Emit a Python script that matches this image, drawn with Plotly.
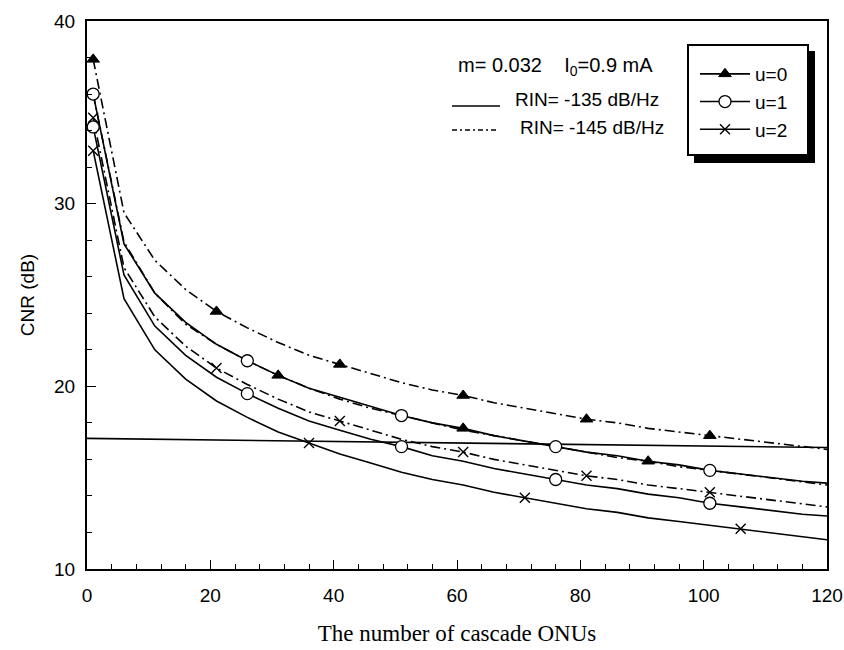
import plotly.graph_objects as go

# ---------------- data ----------------
N = [1, 6, 11, 16, 21, 26, 31, 36, 41, 46, 51, 56, 61, 66, 71, 76, 81, 86, 91, 96,
     101, 106, 111, 116, 120]

# RIN = -145 dB/Hz (dash-dot)
cnr_u0_rin145 = [37.9, 29.5, 26.9, 25.3, 24.1, 23.2, 22.4, 21.7, 21.2, 20.7, 20.2, 19.8,
                 19.5, 19.1, 18.8, 18.5, 18.2, 18.0, 17.7, 17.5, 17.3, 17.1, 16.9, 16.7, 16.55]
cnr_u1_rin145 = [36.0, 27.9, 25.1, 23.4, 22.3, 21.4, 20.6, 19.9, 19.3, 18.8, 18.4, 18.0,
                 17.6, 17.3, 17.0, 16.7, 16.4, 16.1, 15.9, 15.6, 15.4, 15.2, 15.0, 14.8, 14.6]
cnr_u2_rin145 = [34.7, 26.5, 23.8, 22.2, 21.0, 20.1, 19.3, 18.6, 18.1, 17.6, 17.1, 16.7,
                 16.4, 16.0, 15.7, 15.4, 15.1, 14.9, 14.6, 14.4, 14.2, 14.0, 13.8, 13.6, 13.4]
# RIN = -135 dB/Hz (solid)
cnr_u0_rin135 = [36.0, 27.8, 25.1, 23.5, 22.3, 21.4, 20.6, 19.9, 19.4, 18.9, 18.4, 18.0,
                 17.7, 17.3, 17.0, 16.7, 16.4, 16.2, 15.9, 15.7, 15.4, 15.2, 15.0, 14.8, 14.7]
cnr_u1_rin135 = [34.2, 26.1, 23.3, 21.7, 20.5, 19.6, 18.8, 18.1, 17.6, 17.1, 16.7, 16.2,
                 15.9, 15.5, 15.2, 14.9, 14.6, 14.4, 14.1, 13.9, 13.6, 13.4, 13.2, 13.0, 12.9]
cnr_u2_rin135 = [32.9, 24.8, 22.0, 20.4, 19.2, 18.3, 17.5, 16.9, 16.3, 15.8, 15.3, 14.9,
                 14.6, 14.2, 13.9, 13.6, 13.3, 13.1, 12.8, 12.6, 12.4, 12.2, 12.0, 11.8, 11.6]

# nearly horizontal reference line
ref_x = [0, 120]
ref_y = [17.15, 16.65]

# x positions where markers are drawn on each curve
mk_u0_rin145 = [1, 21, 41, 61, 81, 101]
mk_u0_rin135 = [31, 61, 91]
mk_u1_rin145 = [1, 26, 51, 76, 101]
mk_u1_rin135 = [1, 26, 51, 76, 101]
mk_u2_rin145 = [1, 21, 41, 61, 81, 101]
mk_u2_rin135 = [1, 36, 71, 106]

legend_names = ["u=0", "u=1", "u=2"]
x_ticks = [0, 20, 40, 60, 80, 100, 120]
y_ticks = [10, 20, 30, 40]

# ---------------- styles ----------------
SANS = "Liberation Sans, Arial, sans-serif"
SERIF = "Liberation Serif, Times New Roman, serif"
DASHDOT = "10px,4px,2px,4px"
LW = 1.6

sym = {
    "u0": dict(symbol="triangle-up", size=11, color="black",
               line=dict(color="black", width=1)),
    "u1": dict(symbol="circle", size=12, color="white",
               line=dict(color="black", width=1.3)),
    "u2": dict(symbol="x-thin", size=10, color="black",
               line=dict(color="black", width=1.4)),
}

fig = go.Figure()

fig.add_trace(go.Scatter(x=ref_x, y=ref_y, mode="lines",
                         line=dict(color="black", width=LW), showlegend=False,
                         hoverinfo="skip"))

series = [
    ("u0", cnr_u0_rin145, "dash", mk_u0_rin145),
    ("u0", cnr_u0_rin135, "solid", mk_u0_rin135),
    ("u1", cnr_u1_rin145, "dash", mk_u1_rin145),
    ("u1", cnr_u1_rin135, "solid", mk_u1_rin135),
    ("u2", cnr_u2_rin145, "dash", mk_u2_rin145),
    ("u2", cnr_u2_rin135, "solid", mk_u2_rin135),
]

for key, ys, style, mks in series:
    fig.add_trace(go.Scatter(
        x=N, y=ys, mode="lines",
        line=dict(color="black", width=LW,
                  dash=DASHDOT if style == "dash" else "solid"),
        showlegend=False))
for key, ys, style, mks in series:
    lookup = dict(zip(N, ys))
    fig.add_trace(go.Scatter(
        x=mks, y=[lookup[v] for v in mks], mode="markers",
        marker=sym[key], showlegend=False))

# legend-only entries
for key, name in zip(["u0", "u1", "u2"], legend_names):
    fig.add_trace(go.Scatter(
        x=[None], y=[None], mode="lines+markers", name=name,
        legendgroup=key,
        line=dict(color="black", width=LW), marker=sym[key], showlegend=True))

PL, PR, PT, PB = 87, 827, 21, 569


def px_x(p):
    return (p - PL) / float(PR - PL)


def px_y(p):
    return (PB - p) / float(PB - PT)


shapes = [
    # legend drop shadow and frame
    dict(type="rect", xref="paper", yref="paper",
         x0=px_x(694), x1=px_x(815), y0=px_y(163), y1=px_y(51),
         fillcolor="black", line=dict(width=0), layer="above"),
    dict(type="rect", xref="paper", yref="paper",
         x0=px_x(688), x1=px_x(808), y0=px_y(155), y1=px_y(45),
         fillcolor="white", line=dict(color="black", width=2), layer="above"),
    # sample lines for the RIN annotations
    dict(type="line", xref="paper", yref="paper",
         x0=px_x(452), x1=px_x(500), y0=px_y(106), y1=px_y(106),
         line=dict(color="black", width=1.3)),
    dict(type="line", xref="paper", yref="paper",
         x0=px_x(452), x1=px_x(498), y0=px_y(130), y1=px_y(130),
         line=dict(color="black", width=1.3, dash="5px,3px,2px,3px")),
]

annotations = [
    dict(text="m= 0.032" + "\u00a0" * 4 + "I<sub>0</sub>=0.9 mA", x=px_x(456), y=px_y(67),
         xref="paper", yref="paper", xanchor="left", yanchor="middle",
         showarrow=False, font=dict(family=SANS, size=20, color="black")),
    dict(text="RIN= -135 dB/Hz", x=px_x(513), y=px_y(99),
         xref="paper", yref="paper", xanchor="left", yanchor="middle",
         showarrow=False, font=dict(family=SANS, size=19, color="black")),
    dict(text="RIN= -145 dB/Hz", x=px_x(518), y=px_y(127),
         xref="paper", yref="paper", xanchor="left", yanchor="middle",
         showarrow=False, font=dict(family=SANS, size=19, color="black")),
]

fig.update_layout(
    width=844, height=650,
    margin=dict(l=PL, r=844 - PR, t=PT, b=650 - PB, autoexpand=False),
    paper_bgcolor="white", plot_bgcolor="white",
    font=dict(family=SANS, size=18, color="black"),
    shapes=shapes, annotations=annotations,
    legend=dict(x=px_x(695), y=px_y(55), xanchor="left", yanchor="top",
                bgcolor="rgba(0,0,0,0)", borderwidth=0, itemwidth=50,
                font=dict(family=SANS, size=19, color="black"),
                tracegroupgap=0),
    showlegend=True,
)

fig.update_xaxes(
    range=[0, 120], tickvals=x_ticks, ticks="inside", ticklen=9, tickwidth=1.3,
    tickcolor="black", showline=True, linecolor="black", linewidth=2, mirror=True,
    showgrid=False, zeroline=False, ticklabelstandoff=8, automargin=False,
    tickfont=dict(family=SANS, size=19),
    minor=dict(dtick=4, ticks="inside", ticklen=5, tickcolor="black", tickwidth=1.1),
    title=dict(text="The number of cascade ONUs",
               font=dict(family=SERIF, size=23), standoff=20),
)
fig.update_yaxes(
    range=[10, 40], tickvals=y_ticks, ticks="inside", ticklen=9, tickwidth=1.3,
    tickcolor="black", showline=True, linecolor="black", linewidth=2, mirror=True,
    showgrid=False, zeroline=False, ticklabelstandoff=6, automargin=False,
    tickfont=dict(family=SANS, size=19),
    minor=dict(dtick=2, ticks="inside", ticklen=5, tickcolor="black", tickwidth=1.1),
    title=dict(text="CNR (dB)", font=dict(family=SANS, size=19), standoff=14),
)

fig.write_html("out.html",
               config={"displayModeBar": False},
               post_script="document.body.style.margin='0';"
                           "document.body.style.overflow='hidden';")
